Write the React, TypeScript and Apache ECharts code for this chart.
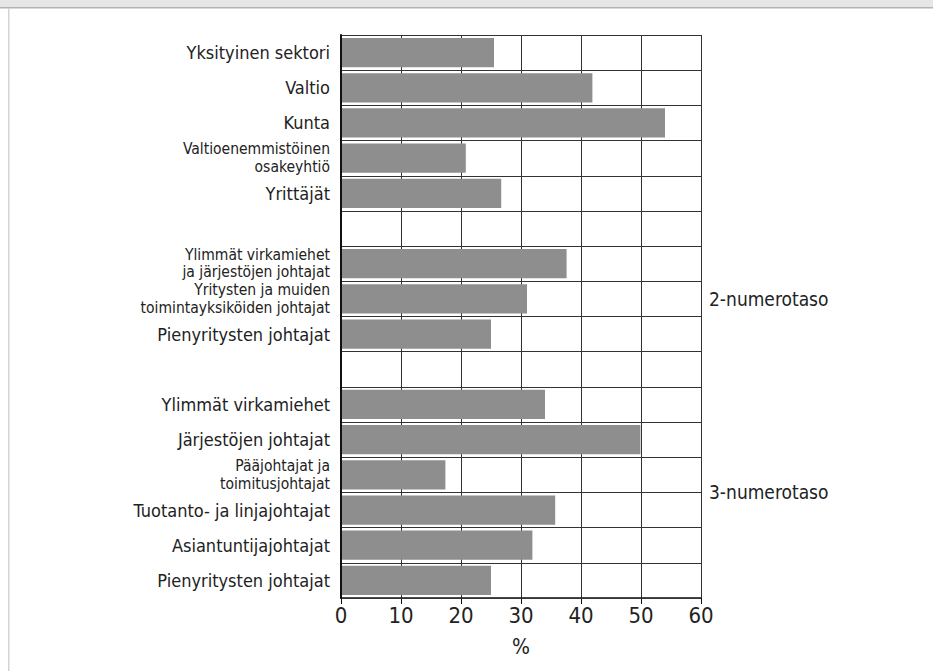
import React, { useEffect, useRef } from "react";
import * as echarts from "echarts";

const categories: string[] = [
  "Yksityinen sektori",
  "Valtio",
  "Kunta",
  "Valtioenemmistöinen\nosakeyhtiö",
  "Yrittäjät",
  "",
  "Ylimmät virkamiehet\nja järjestöjen johtajat",
  "Yritysten ja muiden\ntoimintayksiköiden johtajat",
  "Pienyritysten johtajat",
  " ",
  "Ylimmät virkamiehet",
  "Järjestöjen johtajat",
  "Pääjohtajat ja\ntoimitusjohtajat",
  "Tuotanto- ja linjajohtajat",
  "Asiantuntijajohtajat",
  "Pienyritysten johtajat ",
];

const values: (number | null)[] = [
  25.5, 41.9, 54.0, 20.8, 26.7, null, 37.6, 31.0, 25.0, null, 34.0, 49.9, 17.4, 35.7, 31.9, 25.0,
];

const groupLabels = ["2-numerotaso", "3-numerotaso"];
const groupRanges: [number, number][] = [
  [6, 8],
  [10, 15],
];

const xTicks = { min: 0, max: 60, interval: 10 };
const xAxisName = "%";

const FONT = "'DejaVu Sans Condensed', 'Liberation Sans Narrow', 'Open Sans', sans-serif";

export default function App() {
  const ref = useRef<HTMLDivElement>(null);
  useEffect(() => {
    document.body.style.margin = "0";
    const chart = echarts.init(ref.current!, undefined, { renderer: "svg" });
    chart.setOption({
      animation: false,
      backgroundColor: "#ffffff",
      graphic: [
        { type: "rect", left: 0, top: 0, shape: { width: 933, height: 7 }, style: { fill: "#e6e6e6" } },
        { type: "rect", left: 0, top: 7, shape: { width: 933, height: 1.5 }, style: { fill: "#b4b4b4" } },
        { type: "rect", left: 8, top: 8, shape: { width: 1.5, height: 663 }, style: { fill: "#d4d4d4" } },
      ],
      grid: { left: 341, right: 232, top: 35, bottom: 73, containLabel: false },
      xAxis: {
        type: "value",
        min: xTicks.min,
        max: xTicks.max,
        interval: xTicks.interval,
        name: xAxisName,
        nameLocation: "middle",
        nameGap: 38,
        nameTextStyle: { fontFamily: FONT, fontSize: 21, color: "#222" },
        axisLine: { show: true, lineStyle: { color: "#111", width: 1.5 } },
        axisTick: { show: true, inside: false, length: 6, lineStyle: { color: "#111" } },
        axisLabel: { fontFamily: FONT, fontSize: 22, color: "#222", margin: 6 },
        splitLine: { show: true, lineStyle: { color: "#333", width: 1 } },
      },
      yAxis: {
        type: "category",
        inverse: true,
        data: categories,
        z: 5,
        axisLine: { show: true, lineStyle: { color: "#111", width: 2 } },
        axisTick: { show: false },
        axisLabel: {
          fontFamily: FONT,
          fontSize: 18,
          color: "#222",
          margin: 11,
          align: "right",
          formatter: (v: string) => {
            const t = v.trim();
            if (t.indexOf("\n") < 0) return t;
            return t
              .split("\n")
              .map((s) => "{m|" + s + "}")
              .join("\n");
          },
          rich: {
            m: {
              fontFamily: FONT,
              fontSize: 15.5,
              lineHeight: 17.5,
              color: "#222",
              align: "right",
            },
          },
        },
        splitLine: { show: true, lineStyle: { color: "#333", width: 1 } },
      },
      series: [
        {
          type: "bar",
          data: values,
          barWidth: "83%",
          itemStyle: { color: "#8e8e8e" },
          markArea: {
            silent: true,
            itemStyle: { color: "rgba(0,0,0,0)" },
            label: {
              show: true,
              position: "right",
              distance: 8,
              fontFamily: FONT,
              fontSize: 19,
              color: "#222",
            },
            data: groupRanges.map((r, i) => [
              { name: groupLabels[i], yAxis: r[0] },
              { yAxis: r[1] },
            ]),
          },
        },
      ],
    });
    return () => chart.dispose();
  }, []);
  return <div ref={ref} style={{ width: 933, height: 671 }} />;
}
